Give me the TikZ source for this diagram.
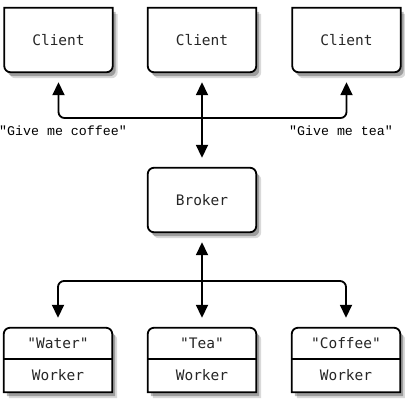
\documentclass[tikz,border=0pt]{standalone}
\usepackage{fontspec}
\newfontfamily\boxfont{DejaVu Sans Mono}
\newfontfamily\labfont{Liberation Mono}
\usetikzlibrary{arrows.meta,backgrounds}
\newcommand\clientpath[1]{(#1.north west) -- (#1.north east) -- ([yshift=6pt]#1.south east) arc[start angle=0,end angle=-90,radius=6pt] -- ([xshift=6pt]#1.south west) arc[start angle=270,end angle=180,radius=6pt] -- cycle}
\newcommand\workerpath[1]{(#1.south west) -- ([yshift=-6pt]#1.north west) arc[start angle=180,end angle=90,radius=6pt] -- ([xshift=-6pt]#1.north east) arc[start angle=90,end angle=0,radius=6pt] -- (#1.south east) -- cycle}
\newcommand\brokerpath[1]{[rounded corners=6pt] (#1.north west) rectangle (#1.south east)}
\tikzset{
  box/.style={minimum width=108pt,minimum height=64pt,inner sep=0pt,text=black!85,font=\boxfont\fontsize{14.5}{16}\selectfont},
  cell/.style={inner sep=0pt,text=black!85,font=\boxfont\fontsize{14.5}{16}\selectfont},
  outline/.style={line width=1.8pt,fill=white},
  shadeA/.style={fill=black,opacity=0.28,transform canvas={shift={(3pt,-4pt)}}},
  shadeB/.style={fill=black,opacity=0.15,transform canvas={shift={(5pt,-6pt)}}},
  conn/.style={line width=1.8pt,{Triangle[width=12pt,length=13pt]}-{Triangle[width=12pt,length=13pt]},shorten <=10pt,shorten >=10pt},
  lab/.style={inner sep=0pt,font=\labfont\fontsize{13.3}{15}\selectfont}
}
\begin{document}
\begin{tikzpicture}[x=1pt,y=1pt]
\useasboundingbox (0,0) rectangle (405,-416);
% clients
\node[box] (c1) at (58.5,-40) {Client};
\node[box] (c2) at (202,-40) {Client};
\node[box] (c3) at (346.5,-40) {Client};
% broker
\node[box] (b) at (202,-200) {Broker};
% workers
\node[box] (w1) at (58,-360) {};
\node[box] (w2) at (202,-360) {};
\node[box] (w3) at (346,-360) {};
\node[cell] (wt1) at (58,-343.5) {"Water"};
\node[cell] (wb1) at (58,-375.5) {Worker};
\node[cell] (wt2) at (202,-343.5) {"Tea"};
\node[cell] (wb2) at (202,-375.5) {Worker};
\node[cell] (wt3) at (346,-343.5) {"Coffee"};
\node[cell] (wb3) at (346,-375.5) {Worker};
\begin{scope}[on background layer]
  \foreach \n in {c1,c2,c3}{
    \fill[shadeB] \clientpath{\n};
    \fill[shadeA] \clientpath{\n};
  }
  \foreach \n in {w1,w2,w3}{
    \fill[shadeB] \workerpath{\n};
    \fill[shadeA] \workerpath{\n};
  }
  \fill[shadeB] \brokerpath{b};
  \fill[shadeA] \brokerpath{b};
  \foreach \n in {c1,c2,c3}{
    \draw[outline] \clientpath{\n};
  }
  \foreach \n in {w1,w2,w3}{
    \draw[outline] \workerpath{\n};
    \draw[line width=1.8pt] (\n.west |- 0,-359) -- (\n.east |- 0,-359);
  }
  \draw[outline] \brokerpath{b};
\end{scope}
% connectors
\coordinate (tophub) at (202,-118);
\coordinate (bothub) at (202,-281);
\draw[conn,rounded corners=6pt] (c1.south) |- (tophub) -| (c3.south);
\draw[conn] (c2.south) -- (b.north);
\draw[conn,rounded corners=6pt] (w1.north) |- (bothub) -| (w3.north);
\draw[conn] (b.south) -- (w2.north);
% labels
\node[lab] (l1) at (63,-131) {"Give me coffee"};
\node[lab] (l2) at (341,-131) {"Give me tea"};
\end{tikzpicture}
\end{document}
